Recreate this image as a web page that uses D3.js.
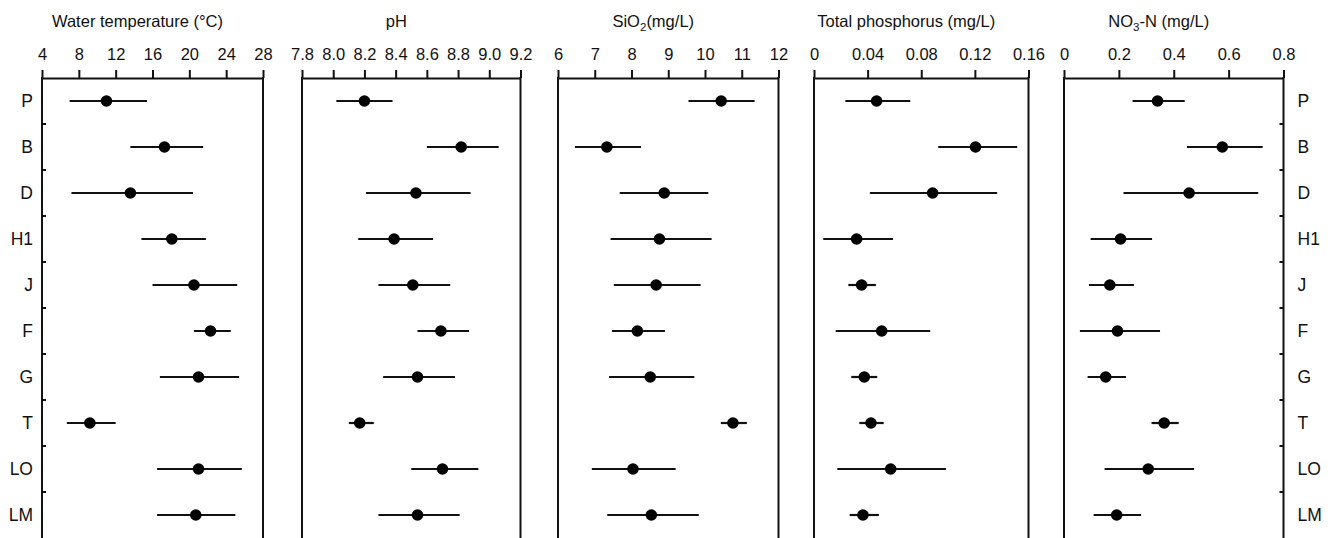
<!DOCTYPE html>
<html>
<head>
<meta charset="utf-8">
<script src="https://cdn.jsdelivr.net/npm/d3@7"></script>
<style>
  html, body { margin: 0; padding: 0; background: #fff; }
  svg { display: block; }
  text { font-family: Arial, "Liberation Sans", sans-serif; fill: #111; }
</style>
</head>
<body>
<svg id="chart" width="1333" height="538"></svg>
<script>
// ---- data ----
const sites = ["P", "B", "D", "H1", "J", "F", "G", "T", "LO", "LM"];

const tempMean = [11.0, 17.3, 13.6, 18.1, 20.5, 22.3, 21.0, 9.2, 21.0, 20.7];
const tempLow  = [7.0, 13.6, 7.2, 14.8, 16.0, 20.5, 16.8, 6.7, 16.5, 16.5];
const tempHigh = [15.4, 21.5, 20.4, 21.8, 25.2, 24.5, 25.4, 12.0, 25.7, 25.0];
const tempTicks = [4, 8, 12, 16, 20, 24, 28];

const phMean = [8.20, 8.82, 8.53, 8.39, 8.51, 8.69, 8.54, 8.17, 8.70, 8.54];
const phLow  = [8.02, 8.60, 8.21, 8.16, 8.29, 8.54, 8.32, 8.10, 8.50, 8.29];
const phHigh = [8.38, 9.06, 8.88, 8.64, 8.75, 8.87, 8.78, 8.26, 8.93, 8.81];
const phTicks = [7.8, 8.0, 8.2, 8.4, 8.6, 8.8, 9.0, 9.2];

const sioMean = [10.44, 7.33, 8.89, 8.76, 8.67, 8.16, 8.51, 10.76, 8.04, 8.54];
const sioLow  = [9.55, 6.46, 7.68, 7.43, 7.52, 7.47, 7.39, 10.43, 6.92, 7.34];
const sioHigh = [11.35, 8.26, 10.09, 10.18, 9.88, 8.91, 9.71, 11.14, 9.20, 9.83];
const sioTicks = [6, 7, 8, 9, 10, 11, 12];

const tpMean = [0.0467, 0.1205, 0.0885, 0.0318, 0.0355, 0.0505, 0.0375, 0.0425, 0.0572, 0.0365];
const tpLow  = [0.0234, 0.0927, 0.0417, 0.0069, 0.0256, 0.0162, 0.0278, 0.0338, 0.0174, 0.0266];
const tpHigh = [0.0718, 0.1516, 0.1366, 0.0589, 0.0462, 0.0867, 0.0472, 0.0520, 0.0984, 0.0484];
const tpTicks = [0, 0.04, 0.08, 0.12, 0.16];

const no3Mean = [0.341, 0.577, 0.456, 0.206, 0.167, 0.195, 0.152, 0.365, 0.307, 0.192];
const no3Low  = [0.250, 0.448, 0.217, 0.097, 0.091, 0.058, 0.086, 0.319, 0.148, 0.108];
const no3High = [0.440, 0.724, 0.708, 0.321, 0.255, 0.350, 0.226, 0.418, 0.474, 0.281];
const no3Ticks = [0, 0.2, 0.4, 0.6, 0.8];

// ---- layout ----
const panels = [
  { title: [["Water temperature (°C)"]], mean: tempMean, low: tempLow, high: tempHigh, ticks: tempTicks, fmt: d3.format("d"), x0: 42, x1: 263 },
  { title: [["pH"]], mean: phMean, low: phLow, high: phHigh, ticks: phTicks, fmt: d3.format(".1f"), x0: 302, x1: 520.5 },
  { title: [["SiO"], ["2", "sub"], ["(mg/L)"]], mean: sioMean, low: sioLow, high: sioHigh, ticks: sioTicks, fmt: d3.format("d"), x0: 558, x1: 778.5 },
  { title: [["Total phosphorus (mg/L)"]], mean: tpMean, low: tpLow, high: tpHigh, ticks: tpTicks, fmt: d => d === 0 ? "0" : d3.format(".2f")(d), x0: 814, x1: 1028.5 },
  { title: [["NO"], ["3", "sub"], ["-N (mg/L)"]], mean: no3Mean, low: no3Low, high: no3High, ticks: no3Ticks, fmt: d => d === 0 ? "0" : d3.format(".1f")(d), x0: 1064, x1: 1283.5 }
];

const plotTop = 78, plotBottom = 538;
const svg = d3.select("#chart");

const y = d3.scaleBand().domain(sites).range([plotTop, plotBottom]).paddingInner(0).paddingOuter(0);

panels.forEach((p, pi) => {
  const x = d3.scaleLinear()
    .domain([p.ticks[0], p.ticks[p.ticks.length - 1]])
    .range([p.x0, p.x1]);
  const g = svg.append("g");

  // title
  const t = g.append("text")
    .attr("x", (p.x0 + p.x1) / 2 - 15)
    .attr("y", 27)
    .attr("text-anchor", "middle")
    .style("font-size", "16.5px");
  let prevSub = false;
  p.title.forEach(([s, kind]) => {
    if (kind === "sub") {
      t.append("tspan").attr("dy", 4).style("font-size", "11.5px").text(s);
      prevSub = true;
    } else {
      const ts = t.append("tspan").text(s);
      if (prevSub) ts.attr("dy", -4);
      prevSub = false;
    }
  });

  // top axis
  const ax = d3.axisTop(x).tickValues(p.ticks).tickFormat(p.fmt).tickSize(8).tickSizeOuter(0).tickPadding(10);
  const axg = g.append("g").attr("transform", `translate(0,${plotTop})`).call(ax);
  axg.select(".domain").attr("stroke", "#111").attr("stroke-width", 2);
  axg.selectAll(".tick line").attr("stroke", "#111").attr("stroke-width", 2);
  axg.selectAll(".tick text").style("font-size", "16.5px").attr("fill", "#111")
    .style("font-family", "Arial, 'Liberation Sans', sans-serif");

  // side frame lines
  g.append("line").attr("x1", p.x0).attr("x2", p.x0).attr("y1", plotTop - 1).attr("y2", plotBottom + 2)
    .attr("stroke", "#111").attr("stroke-width", 2);
  g.append("line").attr("x1", p.x1).attr("x2", p.x1).attr("y1", plotTop - 1).attr("y2", plotBottom + 2)
    .attr("stroke", "#111").attr("stroke-width", 2);

  // category axis
  if (pi === 0 || pi === panels.length - 1) {
    const bounds = sites.slice(1).map(s => y(s));
    const isLeft = pi === 0;
    const xe = isLeft ? p.x0 : p.x1;
    g.selectAll(".cattick").data(bounds).join("line")
      .attr("x1", xe).attr("x2", isLeft ? xe + 4 : xe - 4)
      .attr("y1", d => d).attr("y2", d => d)
      .attr("stroke", "#111").attr("stroke-width", 2);
    g.selectAll(".catlab").data(sites).join("text")
      .attr("x", isLeft ? p.x0 - 9 : p.x1 + 14)
      .attr("y", d => y(d) + y.bandwidth() / 2)
      .attr("dy", "0.36em")
      .attr("text-anchor", isLeft ? "end" : "start")
      .style("font-size", "17.5px")
      .text(d => d);
  }

  // error bars
  g.selectAll(".err").data(sites).join("line")
    .attr("x1", (d, i) => x(p.low[i]))
    .attr("x2", (d, i) => x(p.high[i]))
    .attr("y1", d => y(d) + y.bandwidth() / 2)
    .attr("y2", d => y(d) + y.bandwidth() / 2)
    .attr("stroke", "#111").attr("stroke-width", 2.2);

  // means
  g.selectAll(".pt").data(sites).join("circle")
    .attr("cx", (d, i) => x(p.mean[i]))
    .attr("cy", d => y(d) + y.bandwidth() / 2)
    .attr("r", 5.8)
    .attr("fill", "#000");
});
</script>
</body>
</html>
